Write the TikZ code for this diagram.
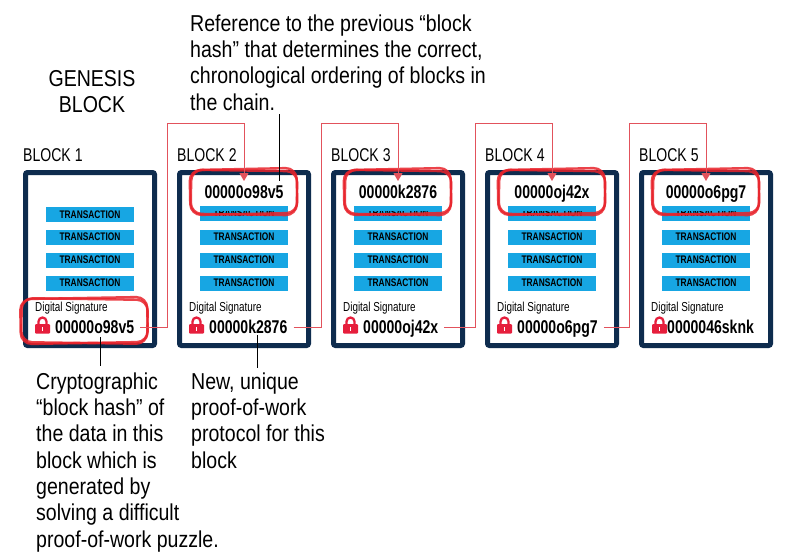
\documentclass[tikz,border=0pt]{standalone}
\usepackage{fontspec}
\setmainfont{Liberation Sans}
\newfontfamily\fwide[FakeStretch=0.85]{Liberation Sans}
\newfontfamily\fnar[FakeStretch=0.76]{Liberation Sans}
\usetikzlibrary{arrows.meta}
\definecolor{navy}{HTML}{0E2C4E}
\definecolor{txcyan}{HTML}{17A6E3}
\definecolor{ringred}{HTML}{E8232B}
\definecolor{linkred}{HTML}{E2525C}
\definecolor{lockred}{HTML}{E61E3C}
\begin{document}
\begin{tikzpicture}[x=1pt,y=-1pt,
  blockbox/.style={draw=navy, line width=5pt, rounded corners=2pt, minimum width=129pt, minimum height=173pt, inner sep=0pt},
  txbar/.style={fill=txcyan, minimum width=88pt, minimum height=15pt, inner sep=0pt, font=\fnar\bfseries\fontsize{11}{12}\selectfont},
  txtext/.style={inner sep=0pt, font=\fnar\bfseries\fontsize{11}{12}\selectfont},
  hashtxt/.style={font=\fnar\bfseries\fontsize{18.5}{20}\selectfont, inner sep=0pt},
  sigtxt/.style={font=\fnar\fontsize{13}{15}\selectfont, inner sep=0pt},
  blocklbl/.style={font=\fnar\fontsize{18.5}{20}\selectfont, inner sep=0pt},
  note/.style={font=\fwide\fontsize{23}{26.3}\selectfont, inner sep=0pt, align=left},
  link/.style={draw=linkred, line width=1pt, -{Triangle[width=9pt,length=8pt]}},
  ring/.style={draw=ringred, line width=2.4pt, rounded corners=11pt, opacity=0.85, inner sep=0pt},
  leader/.style={draw=black, line width=1pt}
]
\useasboundingbox (0,0) rectangle (787,558);
\fill[white] (0,0) rectangle (787,558);

% texts
\node[note, align=center, anchor=north] (genesis) at (92,70) {GENESIS\\BLOCK};
\node[note, anchor=north west] (topnote) at (190,14.5) {Reference to the previous “block\\hash” that determines the correct,\\chronological ordering of blocks in\\the chain.};
\node[note, anchor=north west] (note1) at (36,372.5) {Cryptographic\\“block hash” of\\the data in this\\block which is\\generated by\\solving a difficult\\proof-of-work puzzle.};
\node[note, anchor=north west] (note2) at (191,372.5) {New, unique\\proof-of-work\\protocol for this\\block};

% blocks
\foreach \i/\L/\lx/\hx/\hash in {1/23/12/32/00000o98v5, 2/177/12/32/00000k2876, 3/331/12/32/00000oj42x, 4/485/12/32/00000o6pg7, 5/639/13/28/0000046sknk}{
  \node[blockbox] (blk\i) at (\L+67,259) {};
  \node[blocklbl, anchor=base west] (lbl\i) at (\L,161.5) {BLOCK \i};
  \node[txbar] (txb\i) at (\L+67,237) {TRANSACTION};
  \node[txbar] (txc\i) at (\L+67,260) {TRANSACTION};
  \node[txbar] (txd\i) at (\L+67,283) {TRANSACTION};
  \node[sigtxt, anchor=base west] (sig\i) at (\L+12,311) {Digital Signature};
  % lock
  \fill[lockred, rounded corners=1pt] (\L+\lx,324) rectangle (\L+\lx+15,333.5);
  \draw[lockred, line width=2.3pt] (\L+\lx+3.5,325) -- (\L+\lx+3.5,321.5) arc[start angle=180, end angle=360, radius=4] -- (\L+\lx+11.5,325);
  \fill[white] (\L+\lx+6.8,326.5) rectangle (\L+\lx+8.2,331);
  \node[hashtxt, anchor=base west] (bh\i) at (\L+\hx,333.5) {\hash};
}
% first transaction rows
\node[txbar] (txa1) at (90,214.5) {TRANSACTION};
\foreach \i/\L/\hash in {2/177/00000o98v5, 3/331/00000k2876, 4/485/00000oj42x, 5/639/00000o6pg7}{
  \node[txbar] (txa\i) at (\L+67,213) {};
  \begin{scope}
    \clip (\L+20,211) rectangle (\L+114,222);
    \node[txtext] (txat\i) at (\L+67,213) {TRANSACTION};
  \end{scope}
  \node[hashtxt, anchor=base] (th\i) at (\L+67,198.5) {\hash};
  \node[ring, minimum width=107pt, minimum height=45pt, rotate=1.2] (ringa\i) at (\L+66.5,191.5) {};
  \node[ring, minimum width=106pt, minimum height=44pt, rotate=-0.8] (ringb\i) at (\L+67,192.5) {};
  \coordinate (tip\i) at (\L+67,181);
}
% bottom ring on block 1
\node[ring, minimum width=127pt, minimum height=45pt, rotate=1] (ringg1) at (84,320.5) {};
\node[ring, minimum width=126pt, minimum height=44pt, rotate=-0.8] (ringg2) at (84.5,321) {};

% links
\coordinate (up1) at (167,123);
\coordinate (up2) at (321,123);
\coordinate (up3) at (475,123);
\coordinate (up4) at (629,123);
\draw[link] ([xshift=6pt,yshift=6.5pt]bh1.base east) -| (up1) -| (tip2);
\draw[link] ([xshift=6pt,yshift=6.5pt]bh2.base east) -| (up2) -| (tip3);
\draw[link] ([xshift=6pt,yshift=6.5pt]bh3.base east) -| (up3) -| (tip4);
\draw[link] ([xshift=6pt,yshift=6.5pt]bh4.base east) -| (up4) -| (tip5);

% leaders
\coordinate (la) at (279,114);
\coordinate (lb) at (279,181);
\draw[leader] (la) -- (lb);
\coordinate (lc) at (100,337);
\coordinate (ld) at (100,366);
\draw[leader] (lc) -- (ld);
\coordinate (le) at (257,335);
\coordinate (lf) at (257,368);
\draw[leader] (le) -- (lf);
\end{tikzpicture}
\end{document}
